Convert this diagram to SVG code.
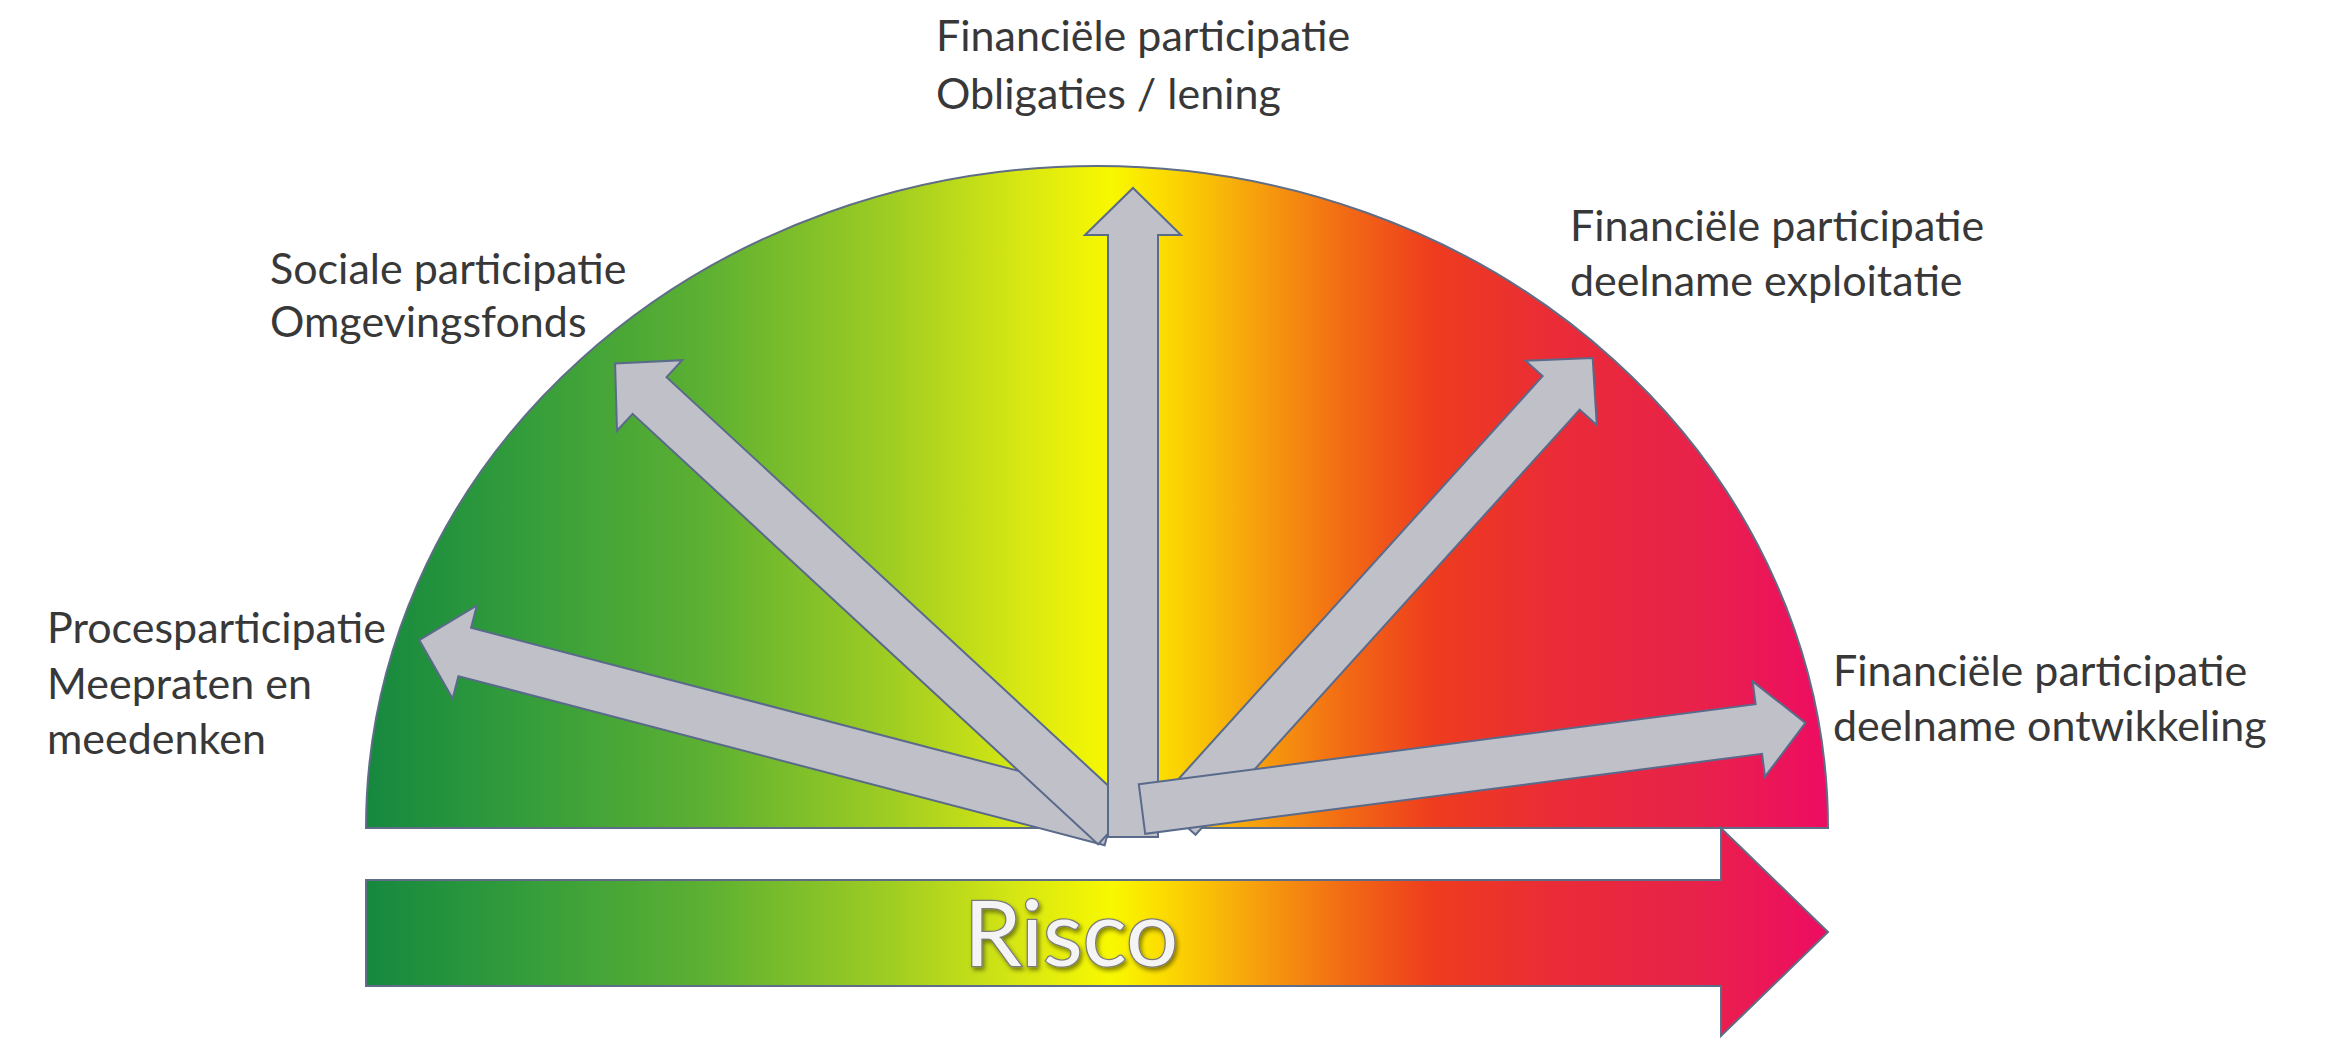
<svg xmlns="http://www.w3.org/2000/svg" width="2326" height="1039" viewBox="0 0 2326 1039">
  <defs>
    <linearGradient id="risk" gradientUnits="userSpaceOnUse" x1="366" y1="0" x2="1828" y2="0">
      <stop offset="0" stop-color="#16883f"/>
      <stop offset="0.09" stop-color="#2e9a3c"/>
      <stop offset="0.23" stop-color="#5cb032"/>
      <stop offset="0.36" stop-color="#a0cd22"/>
      <stop offset="0.45" stop-color="#d9e812"/>
      <stop offset="0.51" stop-color="#f8f800"/>
      <stop offset="0.545" stop-color="#fcdc00"/>
      <stop offset="0.60" stop-color="#f7a80c"/>
      <stop offset="0.67" stop-color="#f26a14"/>
      <stop offset="0.73" stop-color="#ee3c1e"/>
      <stop offset="0.81" stop-color="#ea2c36"/>
      <stop offset="0.91" stop-color="#e8224a"/>
      <stop offset="1" stop-color="#ee0c62"/>
    </linearGradient>
    <filter id="shadow" x="-10%" y="-10%" width="130%" height="130%">
      <feDropShadow dx="2" dy="3" stdDeviation="2" flood-color="#000" flood-opacity="0.45"/>
    </filter>
  </defs>
  <style>
    .lbl { font-family: Lato, "Open Sans", sans-serif; font-size: 43px; fill: #383838; }
    .arrow { fill: #c0c0c9; stroke: #5a6a8a; stroke-width: 2; stroke-linejoin: miter; }
    .shape { fill: url(#risk); stroke: #5f6d86; stroke-width: 2; }
    .risco { font-family: Lato, "Open Sans", sans-serif; font-size: 92px; fill: #f4f4f4; stroke: #7a7a7a; stroke-width: 2.5; paint-order: stroke; }
  </style>

  <g id="halfdisc">
    <path class="shape" d="M 366 828 A 731 662 0 0 1 1828 828 Z"/>
  </g>

  <g id="risco-arrow">
    <polygon class="shape" points="366,880 1721,880 1721,828 1828,932 1721,1036 1721,986 366,986"/>
    <text class="risco" x="1071" y="966" text-anchor="middle" filter="url(#shadow)">Risco</text>
  </g>

  <g id="connectors">
    <polygon class="arrow" transform="translate(1111,821) rotate(194.66)" points="0,-25 668,-25 668,-48 715,0 668,48 668,25 0,25"/>
    <polygon class="arrow" transform="translate(1115,826) rotate(222.77)" points="0,-25 634,-25 634,-48 681,0 634,48 634,25 0,25"/>
    <polygon class="arrow" transform="translate(1133,837) rotate(-90)" points="0,-25 602,-25 602,-48 649,0 602,48 602,25 0,25"/>
    <polygon class="arrow" transform="translate(1177,818) rotate(-47.9)" points="0,-25 573,-25 573,-48 620,0 573,48 573,25 0,25"/>
    <polygon class="arrow" transform="translate(1142,809) rotate(-7.39)" points="0,-25 622,-25 622,-48 669,0 622,48 622,25 0,25"/>
  </g>

  <g id="node-proces">
    <text class="lbl" x="47" y="643">Procesparticipatie</text>
    <text class="lbl" x="47" y="699">Meepraten en</text>
    <text class="lbl" x="47" y="754">meedenken</text>
  </g>
  <g id="node-sociaal">
    <text class="lbl" x="270" y="284">Sociale participatie</text>
    <text class="lbl" x="270" y="337">Omgevingsfonds</text>
  </g>
  <g id="node-obligaties">
    <text class="lbl" x="936" y="51">Financiële participatie</text>
    <text class="lbl" x="936" y="109">Obligaties / lening</text>
  </g>
  <g id="node-exploitatie">
    <text class="lbl" x="1570" y="241">Financiële participatie</text>
    <text class="lbl" x="1570" y="296">deelname exploitatie</text>
  </g>
  <g id="node-ontwikkeling">
    <text class="lbl" x="1833" y="686">Financiële participatie</text>
    <text class="lbl" x="1833" y="741">deelname ontwikkeling</text>
  </g>
</svg>
